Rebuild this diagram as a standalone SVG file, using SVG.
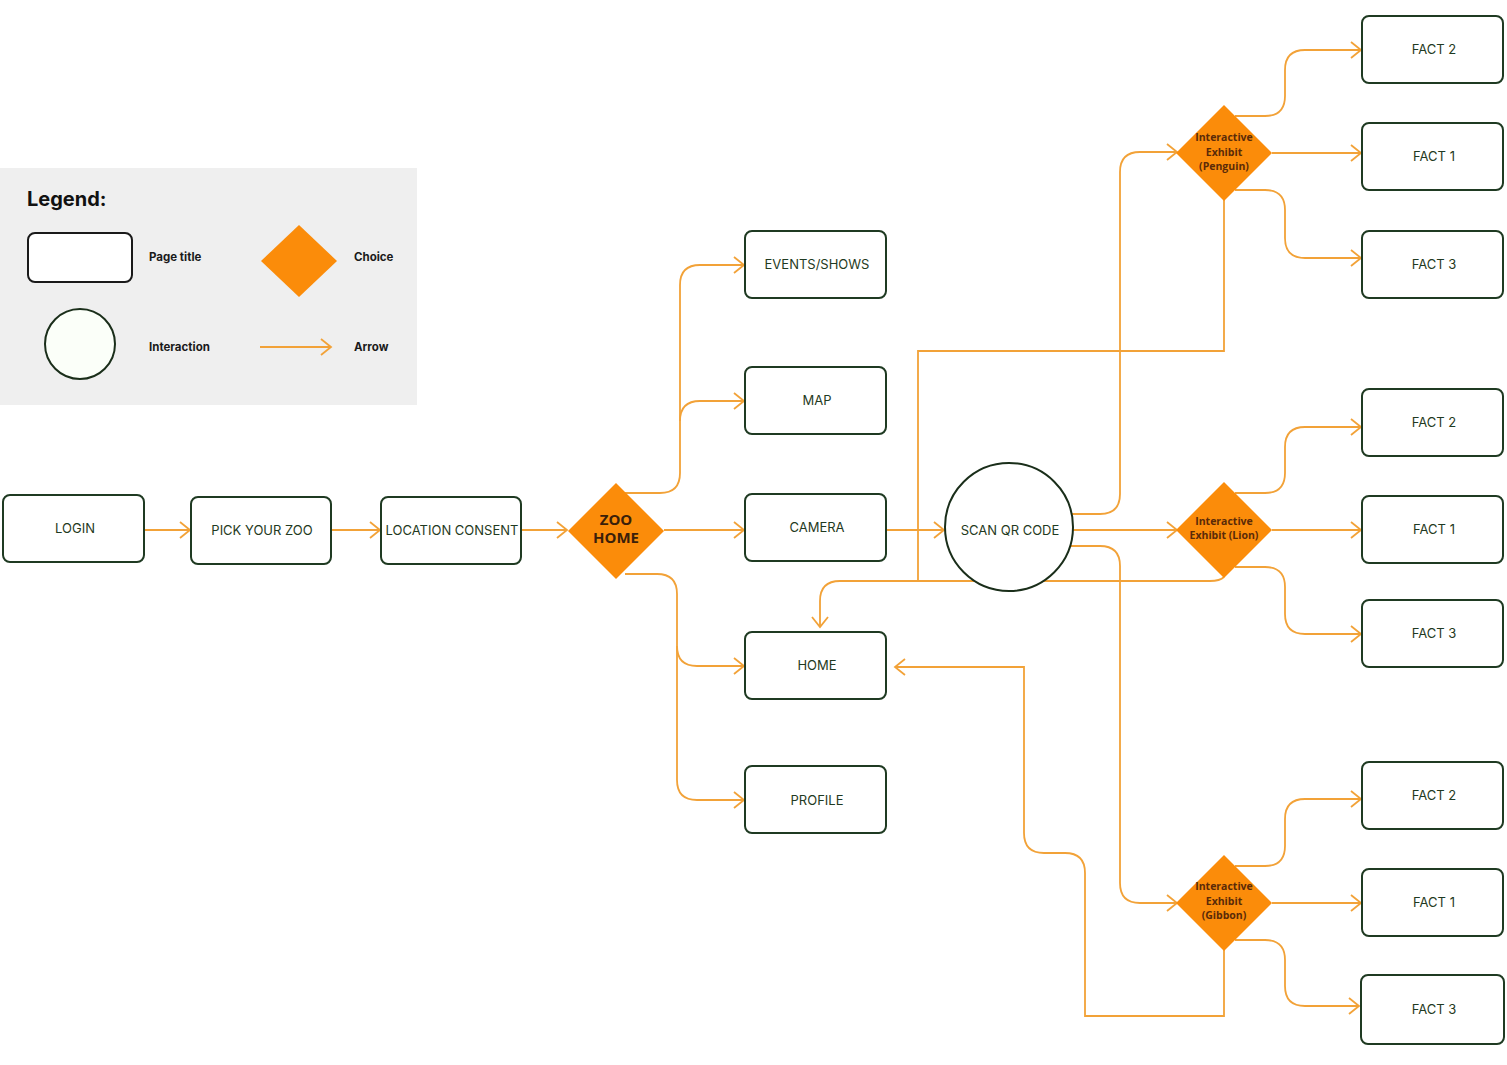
<svg xmlns="http://www.w3.org/2000/svg" width="1507" height="1065" viewBox="0 0 1507 1065">
<defs>
<marker id="arr" markerUnits="userSpaceOnUse" markerWidth="16" markerHeight="20" refX="11" refY="9" orient="auto">
<path d="M1,1 L11,9 L1,17" fill="none" stroke="#F2A238" stroke-width="1.8"/>
</marker>
<style>
.box{fill:#fff;stroke:#1f3a22;stroke-width:2}
.lbl{font-family:Inter,"Liberation Sans",sans-serif;font-size:13px;fill:#1f3a22;text-anchor:middle;dominant-baseline:middle}
.dia{fill:#FB8C0A}
.dt{font-family:"Open Sans","Noto Sans",sans-serif;font-weight:bold;font-size:10.5px;fill:#5a2a08;text-anchor:middle}
.zt{font-family:"Open Sans","Noto Sans",sans-serif;font-weight:bold;font-size:15px;fill:#3a200a;text-anchor:middle}
.ln{fill:none;stroke:#F2A238;stroke-width:1.8}
.lg{font-family:Inter,"Liberation Sans",sans-serif;font-weight:bold;font-size:11.5px;fill:#1a1a1a}
</style>
</defs>
<rect width="1507" height="1065" fill="#fff"/>
<g id="legend">
<rect x="0" y="168" width="417" height="237" fill="#efefef"/>
<text x="27" y="206" font-family="Inter,'Liberation Sans',sans-serif" font-weight="bold" font-size="20" fill="#111">Legend:</text>
<rect x="28" y="233" width="104" height="49" rx="7" fill="#fff" stroke="#1a1a1a" stroke-width="2"/>
<text class="lg" x="149" y="261">Page title</text>
<polygon points="299,225 337,261 299,297 261,261" class="dia"/>
<text class="lg" x="354" y="261">Choice</text>
<circle cx="80" cy="344" r="35" fill="#fbfff9" stroke="#1a2e1a" stroke-width="2"/>
<text class="lg" x="149" y="351">Interaction</text>
<path d="M260 347 H331" class="ln" marker-end="url(#arr)"/>
<text class="lg" x="354" y="351">Arrow</text>
</g>
<g id="connectors">
<path class="ln" d="M144 530 H190" marker-end="url(#arr)"/>
<path class="ln" d="M331 530 H380" marker-end="url(#arr)"/>
<path class="ln" d="M521 530 H567" marker-end="url(#arr)"/>
<path class="ln" d="M664 530 H744" marker-end="url(#arr)"/>
<path class="ln" d="M625 493 H660 Q680 493 680 473 V285 Q680 265 700 265 H744" marker-end="url(#arr)"/>
<path class="ln" d="M680 421 Q680 401 700 401 H744" marker-end="url(#arr)"/>
<path class="ln" d="M625 574 H657 Q677 574 677 594 V780 Q677 800 697 800 H744" marker-end="url(#arr)"/>
<path class="ln" d="M677 646 Q677 666 697 666 H744" marker-end="url(#arr)"/>
<path class="ln" d="M886 530 H944" marker-end="url(#arr)"/>
<path class="ln" d="M1073 530 H1177" marker-end="url(#arr)"/>
<path class="ln" d="M1071 514 H1100 Q1120 514 1120 494 V172 Q1120 152 1140 152 H1177" marker-end="url(#arr)"/>
<path class="ln" d="M1071 546 H1100 Q1120 546 1120 566 V883 Q1120 903 1140 903 H1177" marker-end="url(#arr)"/>
<path class="ln" d="M1224 200 V351 H918 V581"/>
<path class="ln" d="M1224 577 Q1220 581 1210 581 H840 Q820 581 820 601 V627" marker-end="url(#arr)"/>
<path class="ln" d="M1224 950 V1016 H1085 V873 Q1085 853 1065 853 H1044 Q1024 853 1024 833 V667 H895" marker-end="url(#arr)"/>
<path class="ln" d="M1272 153 H1361" marker-end="url(#arr)"/>
<path class="ln" d="M1235 116 H1265 Q1285 116 1285 96 V70 Q1285 50 1305 50 H1361" marker-end="url(#arr)"/>
<path class="ln" d="M1235 190 H1265 Q1285 190 1285 210 V238 Q1285 258 1305 258 H1361" marker-end="url(#arr)"/>
<path class="ln" d="M1272 530 H1361" marker-end="url(#arr)"/>
<path class="ln" d="M1235 493 H1265 Q1285 493 1285 473 V447 Q1285 427 1305 427 H1361" marker-end="url(#arr)"/>
<path class="ln" d="M1235 567 H1265 Q1285 567 1285 587 V614 Q1285 634 1305 634 H1361" marker-end="url(#arr)"/>
<path class="ln" d="M1272 903 H1361" marker-end="url(#arr)"/>
<path class="ln" d="M1235 866 H1265 Q1285 866 1285 846 V819 Q1285 799 1305 799 H1361" marker-end="url(#arr)"/>
<path class="ln" d="M1235 940 H1265 Q1285 940 1285 960 V986 Q1285 1006 1305 1006 H1359" marker-end="url(#arr)"/>
</g>
<g id="login"><rect class="box" x="3" y="495" width="141" height="67" rx="7"/><text class="lbl" x="75" y="529">LOGIN</text></g>
<g id="pick-zoo"><rect class="box" x="191" y="497" width="140" height="67" rx="7"/><text class="lbl" x="262" y="531">PICK YOUR ZOO</text></g>
<g id="location"><rect class="box" x="381" y="497" width="140" height="67" rx="7"/><text class="lbl" x="452" y="531">LOCATION CONSENT</text></g>
<g id="zoo-home"><polygon class="dia" points="616,483 664,531 616,579 568,531"/>
<text class="zt" x="616" y="525">ZOO</text><text class="zt" x="616" y="543">HOME</text></g>
<g id="events"><rect class="box" x="745" y="231" width="141" height="67" rx="7"/><text class="lbl" x="817" y="265">EVENTS/SHOWS</text></g>
<g id="map"><rect class="box" x="745" y="367" width="141" height="67" rx="7"/><text class="lbl" x="817" y="401">MAP</text></g>
<g id="camera"><rect class="box" x="745" y="494" width="141" height="67" rx="7"/><text class="lbl" x="817" y="528">CAMERA</text></g>
<g id="home"><rect class="box" x="745" y="632" width="141" height="67" rx="7"/><text class="lbl" x="817" y="666">HOME</text></g>
<g id="profile"><rect class="box" x="745" y="766" width="141" height="67" rx="7"/><text class="lbl" x="817" y="801">PROFILE</text></g>
<g id="scan-qr"><circle cx="1009" cy="527" r="64" fill="#fff" stroke="#1a2e1a" stroke-width="2"/><text class="lbl" x="1010" y="531">SCAN QR CODE</text></g>
<g id="penguin"><polygon class="dia" points="1224,105 1272,153 1224,201 1176,153"/>
<text class="dt" x="1224" y="141">Interactive</text><text class="dt" x="1224" y="156">Exhibit</text><text class="dt" x="1224" y="170">(Penguin)</text></g>
<g id="lion"><polygon class="dia" points="1224,482 1272,530 1224,578 1176,530"/>
<text class="dt" x="1224" y="525">Interactive</text><text class="dt" x="1224" y="539">Exhibit (Lion)</text></g>
<g id="gibbon"><polygon class="dia" points="1224,855 1272,903 1224,951 1176,903"/>
<text class="dt" x="1224" y="890">Interactive</text><text class="dt" x="1224" y="905">Exhibit</text><text class="dt" x="1224" y="919">(Gibbon)</text></g>
<g id="p-fact2"><rect class="box" x="1362" y="16" width="141" height="67" rx="7"/><text class="lbl" x="1434" y="50">FACT 2</text></g>
<g id="p-fact1"><rect class="box" x="1362" y="123" width="141" height="67" rx="7"/><text class="lbl" x="1434" y="157">FACT 1</text></g>
<g id="p-fact3"><rect class="box" x="1362" y="231" width="141" height="67" rx="7"/><text class="lbl" x="1434" y="265">FACT 3</text></g>
<g id="l-fact2"><rect class="box" x="1362" y="389" width="141" height="67" rx="7"/><text class="lbl" x="1434" y="423">FACT 2</text></g>
<g id="l-fact1"><rect class="box" x="1362" y="496" width="141" height="67" rx="7"/><text class="lbl" x="1434" y="530">FACT 1</text></g>
<g id="l-fact3"><rect class="box" x="1362" y="600" width="141" height="67" rx="7"/><text class="lbl" x="1434" y="634">FACT 3</text></g>
<g id="g-fact2"><rect class="box" x="1362" y="762" width="141" height="67" rx="7"/><text class="lbl" x="1434" y="796">FACT 2</text></g>
<g id="g-fact1"><rect class="box" x="1362" y="869" width="141" height="67" rx="7"/><text class="lbl" x="1434" y="903">FACT 1</text></g>
<g id="g-fact3"><rect class="box" x="1361" y="975" width="143" height="69" rx="7"/><text class="lbl" x="1434" y="1010">FACT 3</text></g>
</svg>
